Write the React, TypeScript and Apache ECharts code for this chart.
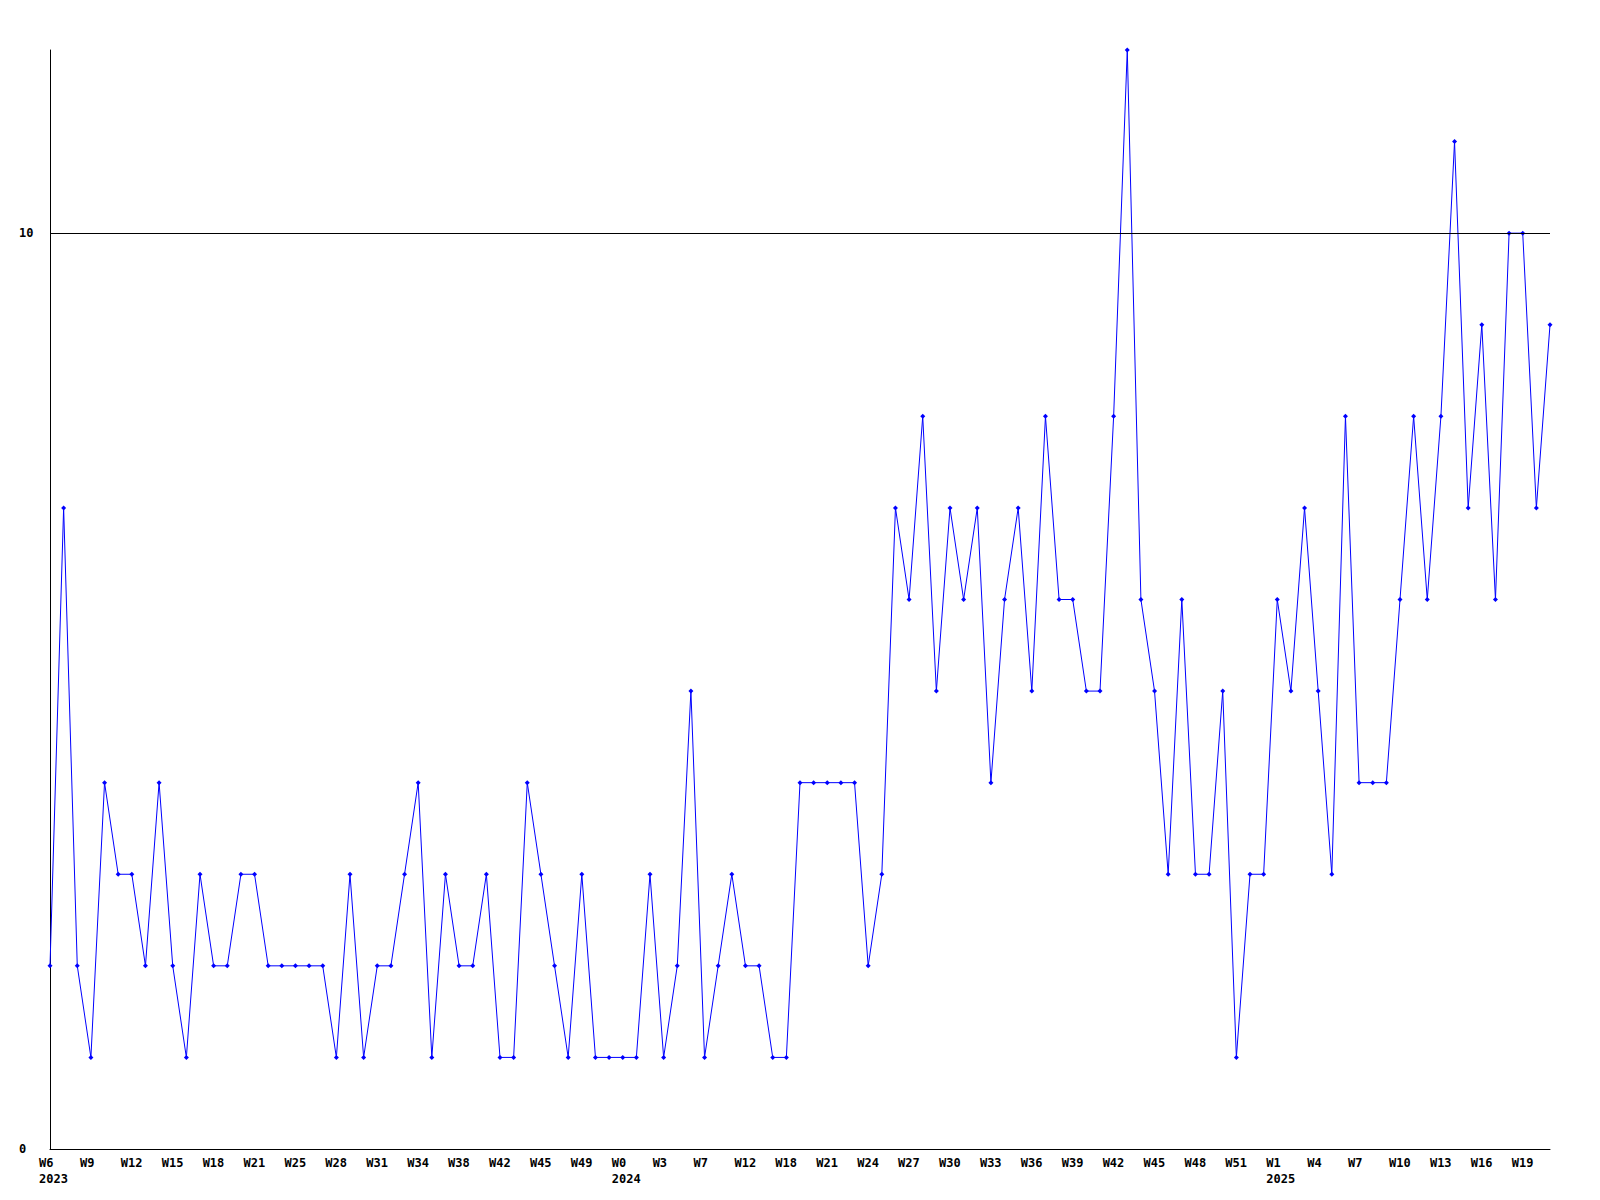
import React, { useEffect, useRef } from "react";
import * as echarts from "echarts";

const tickLabels = [
  "W6", "W9", "W12", "W15", "W18", "W21", "W25", "W28", "W31", "W34", "W38", "W42", "W45",
  "W49", "W0", "W3", "W7", "W12", "W18", "W21", "W24", "W27", "W30", "W33", "W36", "W39",
  "W42", "W45", "W48", "W51", "W1", "W4", "W7", "W10", "W13", "W16", "W19",
];
const yearLabels: Record<number, string> = { 0: "2023", 14: "2024", 30: "2025" };

const values = [
  2, 7, 2, 1, 4, 3, 3, 2, 4, 2, 1, 3, 2, 2, 3, 3, 2, 2, 2, 2,
  2, 1, 3, 1, 2, 2, 3, 4, 1, 3, 2, 2, 3, 1, 1, 4, 3, 2, 1, 3,
  1, 1, 1, 1, 3, 1, 2, 5, 1, 2, 3, 2, 2, 1, 1, 4, 4, 4, 4, 4,
  2, 3, 7, 6, 8, 5, 7, 6, 7, 4, 6, 7, 5, 8, 6, 6, 5, 5, 8, 12,
  6, 5, 3, 6, 3, 3, 5, 1, 3, 3, 6, 5, 7, 5, 3, 8, 4, 4, 4, 6,
  8, 6, 8, 11, 7, 9, 6, 10, 10, 7, 9,
];

const referenceLine = 10;

const categories = values.map((_, i) => String(i));

const FONT = "DejaVu Sans Mono";

export default function App() {
  const ref = useRef<HTMLDivElement>(null);
  useEffect(() => {
    if (!ref.current) return;
    const chart = echarts.init(ref.current, null, { renderer: "svg" });
    chart.setOption({
      animation: false,
      backgroundColor: "#ffffff",
      grid: { left: 50, right: 50, top: 50, bottom: 51, containLabel: false },
      xAxis: {
        type: "category",
        data: categories,
        boundaryGap: false,
        axisLine: { lineStyle: { color: "#000", width: 1 } },
        axisTick: { show: false },
        splitLine: { show: false },
        axisLabel: {
          interval: 2,
          align: "left",
          verticalAlign: "top",
          margin: 6,
          padding: [0, 0, 0, -11],
          fontFamily: FONT,
          fontWeight: "bold",
          fontSize: 12,
          lineHeight: 16,
          color: "#000",
          formatter: (v: string) => {
            const i = Number(v);
            if (i % 3 !== 0) return "";
            const k = i / 3;
            const w = tickLabels[k] ?? "";
            return yearLabels[k] ? w + "\n" + yearLabels[k] : w;
          },
        },
      },
      yAxis: {
        type: "value",
        min: 0,
        max: 12,
        interval: 10,
        axisLine: { show: true, lineStyle: { color: "#000", width: 1 } },
        axisTick: { show: false },
        splitLine: { show: false },
        axisLabel: {
          align: "left",
          margin: 31,
          fontFamily: FONT,
          fontWeight: "bold",
          fontSize: 12,
          color: "#000",
          formatter: (v: number) => (v === 0 || v === 10 ? String(v) : ""),
        },
      },
      series: [
        {
          type: "line",
          data: values,
          symbol: "diamond",
          symbolSize: 5,
          showAllSymbol: true,
          lineStyle: { color: "#0000ff", width: 1 },
          itemStyle: { color: "#0000ff" },
          markLine: {
            silent: true,
            symbol: ["none", "none"],
            label: { show: false },
            lineStyle: { color: "#000", width: 1, type: "solid" },
            data: [{ yAxis: referenceLine }],
          },
          z: 3,
        },
      ],
    });
    return () => chart.dispose();
  }, []);
  return (
    <div
      ref={ref}
      style={{ position: "fixed", left: 0, top: 0, width: 1600, height: 1200, background: "#fff" }}
    />
  );
}
